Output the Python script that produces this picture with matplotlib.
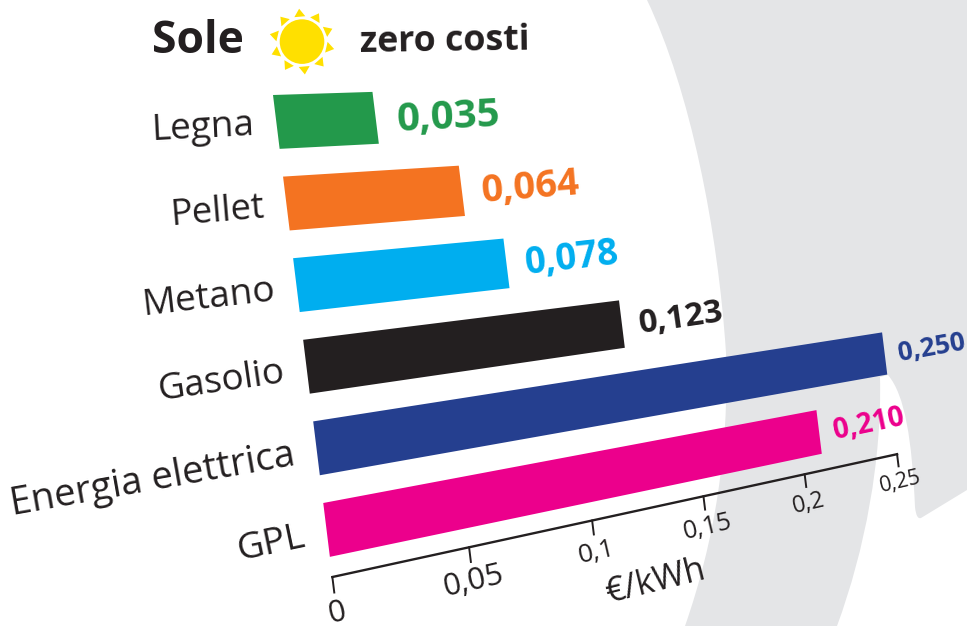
#!/usr/bin/env python3

import numpy as np
import matplotlib
matplotlib.use('Agg')
import matplotlib.pyplot as plt
from matplotlib.patches import Circle, PathPatch, Polygon
from matplotlib.path import Path
from matplotlib.transforms import Transform

plt.rcParams['font.family'] = ['Open Sans', 'DejaVu Sans']

categories = ['Legna', 'Pellet', 'Metano', 'Gasolio', 'Energia elettrica', 'GPL']
values = [0.035, 0.064, 0.078, 0.123, 0.250, 0.210]
value_labels = ['0,035', '0,064', '0,078', '0,123', '0,250', '0,210']
ticks = [0, 0.05, 0.1, 0.15, 0.2, 0.25]
tick_labels = ['0', '0,05', '0,1', '0,15', '0,2', '0,25']

colors = ['#23994b', '#f47321', '#00aeef', '#231f20', '#253f8f', '#ec008c']
category_sizes = [26.6, 26.2, 26.8, 26.6, 27.5, 26.8]
value_sizes = [29, 27.5, 26.4, 23.8, 19, 20.1]
tick_sizes = [22, 22.3, 19, 18, 16.8, 15.3]
ink = '#231f20'


class Perspective(Transform):
	'''(value, row) to picture pixels: the rows run off to one vanishing point'''
	input_dims = 2
	output_dims = 2
	is_separable = False
	has_inverse = False

	def transform_non_affine(self, xy):
		xy = np.asarray(xy, dtype=float)
		v, r = xy[:, 0], xy[:, 1]
		lx = 273 + 10.05 * r
		ly = 95 + 81.6 * r
		t = v / (v + 0.9)
		return np.column_stack((lx + t * (2930 - lx), ly + t * (12 - ly)))


persp = Perspective()


def row_angle(v, r):
	p = persp.transform(np.array([[v, r], [v + 0.02, r]]))
	return np.degrees(np.arctan2(p[0, 1] - p[1, 1], p[1, 0] - p[0, 0]))


fig = plt.figure(figsize=(9.67, 6.26), dpi=100)
ax = fig.add_axes([0, 0, 1, 1])

# grey background shape, in pixels
M, L, C = Path.MOVETO, Path.LINETO, Path.CURVE4
verts = [(647, 0), (690, 90), (718, 230), (726, 353), (729, 450), (715, 540), (685, 626),
	(837, 626), (865, 550), (882, 460), (880, 377), (888, 375), (905, 395), (912, 440),
	(915, 507), (916, 516), (918, 519), (921, 518), (967, 490), (967, 0), (647, 0)]
codes = [M, C, C, C, C, C, C, L, C, C, C, L, C, C, C, C, C, C, L, L, L]
ax.add_patch(PathPatch(Path(verts, codes), fc='#e4e5e7', ec='none', zorder=0))

data_tr = persp + ax.transData
bar_h = 0.66
rows = np.arange(len(values))

ax.barh(rows + bar_h / 2, values, height=bar_h, color=colors, transform=data_tr, zorder=2)

for i in rows:
	mid = i + bar_h / 2 + 0.04
	ax.text(-0.0075, mid, categories[i], transform=data_tr, ha='right', va='center',
		rotation=row_angle(0, mid) + 0.5, rotation_mode='anchor', fontsize=category_sizes[i],
		color=ink, zorder=3)
	ax.text(values[i] + 0.0075, mid, value_labels[i], transform=data_tr, ha='left', va='center',
		rotation=row_angle(values[i], mid) + 0.5, rotation_mode='anchor', fontsize=value_sizes[i],
		fontweight='bold', color=colors[i], zorder=3)

# axis
axis_row = 5.907
ax.plot([0, 0.25], [axis_row, axis_row], color=ink, lw=1.7, transform=data_tr, zorder=3,
	solid_capstyle='projecting')
for i, t in enumerate(ticks):
	ax.plot([t, t], [axis_row, axis_row + 0.19], color=ink, lw=1.4, transform=data_tr, zorder=3)
	ax.text(t, 6.35, tick_labels[i], transform=data_tr, ha='center', va='center',
		rotation=row_angle(t, 6.35), rotation_mode='anchor', fontsize=tick_sizes[i], color=ink, zorder=3)

ax.text(655, 582, '€/kWh', ha='center', va='center', rotation=14, rotation_mode='anchor',
	fontsize=24.5, color=ink, zorder=4)

# top row
ax.text(198, 41.5, 'Sole', ha='center', va='center', fontsize=32, fontweight='bold', color=ink)
ax.text(445, 41.5, 'zero costi', ha='center', va='center', fontsize=25.7, fontweight='bold',
	rotation=0.8, rotation_mode='anchor', color=ink)

sun = (302, 41.6)
ax.add_patch(Circle(sun, 22.3, fc='#ffe000', ec='none', zorder=2))
for a in np.radians(np.arange(10) * 36 + 95):
	d = np.array([np.cos(a), -np.sin(a)])
	n = np.array([d[1], -d[0]])
	c = np.array(sun)
	ax.add_patch(Polygon([c + 33 * d, c + 25 * d + 5.5 * n, c + 25 * d - 5.5 * n],
		fc='#ffe000', ec='none', zorder=2))

ax.set_xlim(0, 967)
ax.set_ylim(626, 0)
ax.axis('off')

fig.savefig('out.png', dpi=100)
